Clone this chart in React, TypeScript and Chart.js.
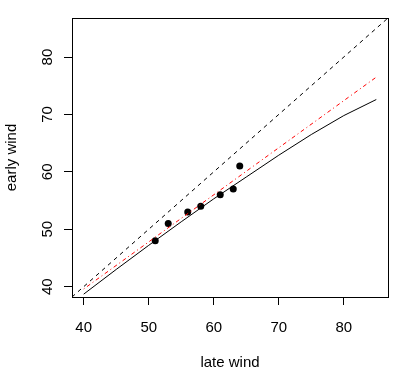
import React, { useEffect, useRef } from "react";
import { Chart, registerables } from "chart.js";

Chart.register(...registerables);

// Observed data points (late wind, early wind)
const lateWind = [51, 53, 56, 58, 61, 63, 64];
const earlyWind = [48, 51, 53, 54, 56, 57, 61];

// Solid black fitted curve
const curveX = [40, 45, 50, 55, 60, 65, 70, 75, 80, 85];
const curveY = [38.7, 43.0, 47.2, 51.3, 55.3, 59.1, 62.9, 66.5, 69.8, 72.6];

// Red dash-dot straight fit
const fitX = [40, 85];
const fitY = [39.6, 76.5];

// Identity line y = x, spanning the axes
const identX = [38.2, 86.8];
const identY = [38.2, 86.8];

const axisMin = 38.2;
const axisMax = 86.8;
const tickValues = [40, 50, 60, 70, 80];
const xTitle = "late wind";
const yTitle = "early wind";

const FONT = '15px "Liberation Sans", Arial, sans-serif';

const zip = (xs: number[], ys: number[]) => xs.map((x, i) => ({ x, y: ys[i] }));

const framePlugin = {
  id: "frameAndText",
  afterDraw(chart: any) {
    const { ctx, chartArea, scales } = chart;
    const { left, right, top, bottom } = chartArea;
    ctx.save();
    ctx.strokeStyle = "#000";
    ctx.lineWidth = 1;
    ctx.strokeRect(left + 0.5, top + 0.5, right - left, bottom - top);

    ctx.fillStyle = "#000";
    ctx.font = FONT;
    ctx.textAlign = "center";
    ctx.textBaseline = "middle";
    // x tick labels
    scales.x.ticks.forEach((t: any) => {
      const px = scales.x.getPixelForValue(t.value);
      ctx.fillText(String(t.value), px, 328);
    });
    // x title
    ctx.fillText(xTitle, (left + right) / 2, 363);
    // y tick labels (rotated)
    scales.y.ticks.forEach((t: any) => {
      const py = scales.y.getPixelForValue(t.value);
      ctx.save();
      ctx.translate(48, py);
      ctx.rotate(-Math.PI / 2);
      ctx.fillText(String(t.value), 0, 0);
      ctx.restore();
    });
    // y title
    ctx.save();
    ctx.translate(12, (top + bottom) / 2);
    ctx.rotate(-Math.PI / 2);
    ctx.fillText(yTitle, 0, 0);
    ctx.restore();
    ctx.restore();
  },
};

export default function App() {
  const ref = useRef<HTMLCanvasElement | null>(null);

  useEffect(() => {
    if (!ref.current) return;
    const setTicks = (s: any) => {
      s.ticks = tickValues.map((v) => ({ value: v }));
    };
    const chart = new Chart(ref.current, {
      type: "scatter",
      data: {
        datasets: [
          {
            data: zip(identX, identY),
            showLine: true,
            borderColor: "#000",
            borderWidth: 1,
            borderDash: [4, 4],
            pointRadius: 0,
          },
          {
            data: zip(curveX, curveY),
            showLine: true,
            borderColor: "#000",
            borderWidth: 1,
            pointRadius: 0,
            tension: 0,
          },
          {
            data: zip(fitX, fitY),
            showLine: true,
            borderColor: "#ff0000",
            borderWidth: 1,
            borderDash: [1, 3, 4, 3],
            pointRadius: 0,
          },
          {
            data: zip(lateWind, earlyWind),
            showLine: false,
            pointStyle: "circle",
            pointRadius: 3.5,
            backgroundColor: "#000",
            borderColor: "#000",
            borderWidth: 0,
          },
        ],
      },
      options: {
        animation: false,
        responsive: false,
        devicePixelRatio: 1,
        layout: { padding: { left: 0, right: 17, top: 18, bottom: 0 } },
        plugins: { legend: { display: false }, tooltip: { enabled: false } },
        scales: {
          x: {
            type: "linear",
            min: axisMin,
            max: axisMax,
            afterBuildTicks: setTicks,
            afterFit: (s: any) => {
              s.height = 72;
            },
            ticks: { display: false },
            grid: {
              drawOnChartArea: false,
              drawTicks: true,
              tickLength: 8,
              color: "#000",
              lineWidth: 1,
            },
            border: { display: true, color: "#000", width: 1 },
          },
          y: {
            type: "linear",
            min: axisMin,
            max: axisMax,
            afterBuildTicks: setTicks,
            afterFit: (s: any) => {
              s.width = 72;
            },
            ticks: { display: false },
            grid: {
              drawOnChartArea: false,
              drawTicks: true,
              tickLength: 8,
              color: "#000",
              lineWidth: 1,
            },
            border: { display: true, color: "#000", width: 1 },
          },
        },
      },
      plugins: [framePlugin],
    });
    return () => chart.destroy();
  }, []);

  return (
    <div style={{ position: "fixed", left: 0, top: 0, width: 405, height: 369, background: "#fff" }}>
      <canvas ref={ref} width={405} height={369} style={{ display: "block" }} />
    </div>
  );
}
